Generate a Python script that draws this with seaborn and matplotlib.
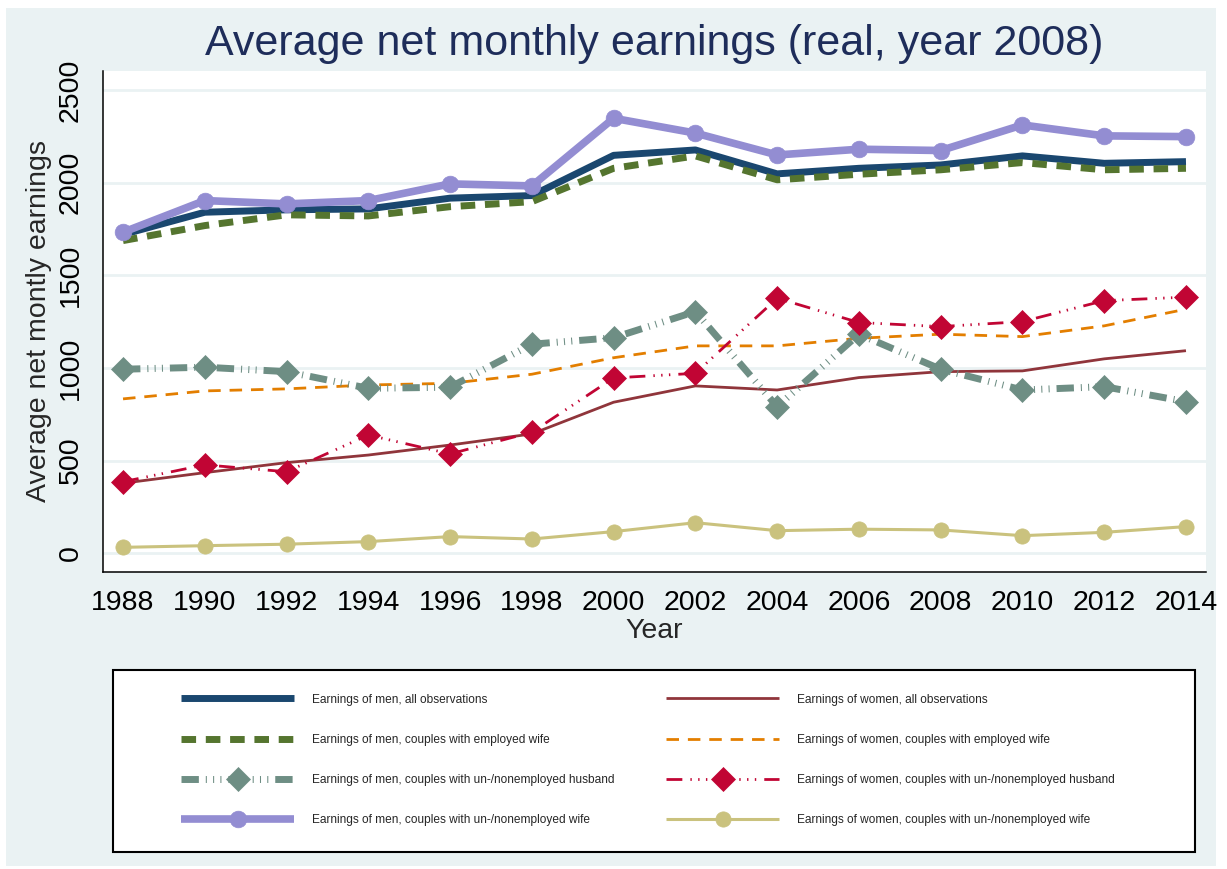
import matplotlib
matplotlib.use("Agg")
import matplotlib.pyplot as plt
import seaborn as sns
from matplotlib.patches import Rectangle

# values
years = [1988, 1990, 1992, 1994, 1996, 1998, 2000, 2002, 2004, 2006, 2008, 2010, 2012, 2014]

men_all = [1720, 1840, 1853, 1858, 1916, 1930, 2147, 2176, 2047, 2077, 2095, 2144, 2104, 2113]
women_all = [378, 435, 489, 530, 584, 644, 815, 903, 881, 948, 980, 984, 1049, 1093]
men_emp_wife = [1687, 1768, 1826, 1820, 1870, 1897, 2077, 2144, 2015, 2045, 2069, 2108, 2069, 2077]
women_emp_wife = [833, 876, 887, 908, 917, 966, 1055, 1119, 1119, 1160, 1182, 1169, 1227, 1317]
men_unemp_husb = [993, 1004, 980, 890, 896, 1128, 1163, 1304, 791, 1182, 993, 881, 899, 818]
women_unemp_husb = [386, 477, 440, 638, 536, 653, 946, 971, 1376, 1245, 1223, 1250, 1363, 1382]
men_unemp_wife = [1732, 1903, 1885, 1903, 1993, 1982, 2347, 2267, 2149, 2180, 2173, 2311, 2252, 2248]
women_unemp_wife = [32, 41, 49, 63, 90, 77, 117, 165, 122, 130, 126, 95, 113, 144]

labels = [
    "Earnings of men, all observations",
    "Earnings of women, all observations",
    "Earnings of men, couples with employed wife",
    "Earnings of women, couples with employed wife",
    "Earnings of men, couples with un-/nonemployed husband",
    "Earnings of women, couples with un-/nonemployed husband",
    "Earnings of men, couples with un-/nonemployed wife",
    "Earnings of women, couples with un-/nonemployed wife",
]
series = [men_all, women_all, men_emp_wife, women_emp_wife,
          men_unemp_husb, women_unemp_husb, men_unemp_wife, women_unemp_wife]

# stata s2color-ish palette
colors = ["#1a476f", "#90353b", "#55752f", "#e37e00",
          "#6e8e84", "#c10534", "#938dd2", "#cac27e"]
styles = [
    dict(lw=5, ls="-"),
    dict(lw=2, ls="-"),
    dict(lw=5, ls=(0, (2.1, 1.4))),
    dict(lw=2, ls=(0, (4.5, 3.2))),
    dict(lw=5, ls=(0, (2.5, 1.0, 0.15, 0.9, 0.15, 0.9, 0.15, 1.0)), marker="D", ms=12),
    dict(lw=2, ls=(0, (5.7, 2.9, 0.5, 2.3, 0.5, 2.3, 0.5, 2.9)), marker="D", ms=12),
    dict(lw=5.5, ls="-", marker="o", ms=12),
    dict(lw=2.2, ls="-", marker="o", ms=11),
]

bg = "#eaf2f3"
sns.set_style("white")
plt.rcParams["font.family"] = ["Liberation Sans", "DejaVu Sans"]

fig = plt.figure(figsize=(12.27, 8.69), dpi=100, facecolor="white")
fig.patches.append(Rectangle((6 / 1227, 1 - 866 / 869), 1210 / 1227, 858 / 869,
                             transform=fig.transFigure, facecolor=bg,
                             edgecolor="none", zorder=-10))
ax = fig.add_axes([103 / 1227, 1 - 572 / 869, 1103 / 1227, 501 / 869])
ax.set_facecolor("white")

for vals, col, st in zip(series, colors, styles):
    sns.lineplot(x=years, y=vals, ax=ax, color=col, errorbar=None,
                 linewidth=st["lw"], linestyle=st["ls"],
                 marker=st.get("marker", None), markersize=st.get("ms", 0),
                 markeredgecolor=col, markeredgewidth=0.5,
                 dash_capstyle="butt", solid_capstyle="butt")

ax.set_xlim(1987.51, 2014.49)
ax.set_ylim(-101, 2602)
ax.set_xticks(years)
ax.set_yticks([0, 500, 1000, 1500, 2000, 2500])
ax.yaxis.grid(True, color=bg, lw=2)
ax.xaxis.grid(False)
ax.set_axisbelow(True)

for s in ["top", "right"]:
    ax.spines[s].set_visible(False)
for s in ["left", "bottom"]:
    ax.spines[s].set_color("black")
    ax.spines[s].set_linewidth(1.1)

ax.tick_params(axis="both", direction="out", length=7, width=1.1,
               color="black", labelsize=20.5, labelcolor="black")
ax.tick_params(axis="y", pad=7)
ax.tick_params(axis="x", pad=6)
for t in ax.get_yticklabels():
    t.set_rotation(90)
    t.set_va("center")

ax.set_xlabel("Year", fontsize=20.5, labelpad=1.5)
ax.set_ylabel("Average net montly earnings", fontsize=20.5, labelpad=4)

fig.text(654 / 1227, 1 - 55 / 869, "Average net monthly earnings (real, year 2008)",
         ha="center", va="baseline", fontsize=31, color="#1e2d5a")

# legend: men in the left column, women in the right
lines = ax.get_lines()
order = [0, 2, 4, 6, 1, 3, 5, 7]
fig.patches.append(Rectangle((113 / 1227, 1 - 852 / 869), 1082 / 1227, 182 / 869,
                             transform=fig.transFigure, facecolor="white",
                             edgecolor="black", lw=1.5, zorder=1))
fig.legend([lines[i] for i in order], [labels[i] for i in order],
           ncol=2, loc="center", bbox_to_anchor=(648 / 1227, 1 - 760 / 869),
           frameon=False, fontsize=8.6, handlelength=9.45, handletextpad=1.5,
           columnspacing=4.35, labelspacing=2.37, numpoints=1)

fig.savefig("out.png", dpi=100, facecolor="white")
